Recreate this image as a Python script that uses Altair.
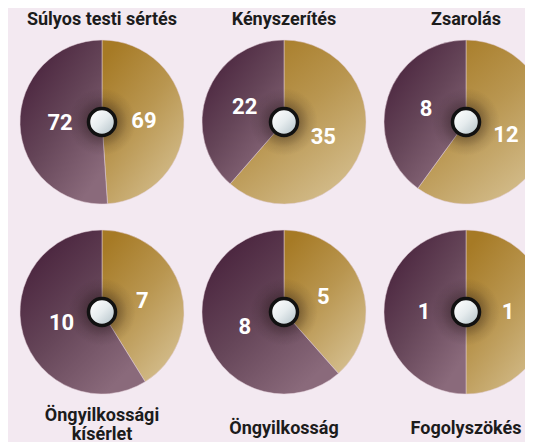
import altair as alt
import pandas as pd

titles = ["Súlyos testi sértés", "Kényszerítés", "Zsarolás",
          "Öngyilkossági\nkísérlet", "Öngyilkosság", "Fogolyszökés"]
gold_values = [69, 35, 12, 7, 5, 1]
purple_values = [72, 22, 8, 10, 8, 1]
grid_col = [0, 1, 2, 0, 1, 2]
grid_row = [0, 0, 0, 1, 1, 1]

rows = []
for i, t in enumerate(titles):
    rows.append({"pie": i, "col": grid_col[i], "row": grid_row[i],
                 "kind": "gold", "order": 0, "value": gold_values[i]})
    rows.append({"pie": i, "col": grid_col[i], "row": grid_row[i],
                 "kind": "purple", "order": 1, "value": purple_values[i]})
slices = pd.DataFrame(rows)
pies = pd.DataFrame({"pie": list(range(len(titles))), "title": titles,
                     "col": grid_col, "row": grid_row})

X = alt.X("col:Q", scale=alt.Scale(domain=[0, 2], range=[94, 458]), axis=None)
Y = alt.Y("row:Q", scale=alt.Scale(domain=[0, 1], range=[114, 304]), axis=None)

FONT = "Roboto"

gold_grad = alt.LinearGradient(
    gradient="linear",
    stops=[alt.GradientStop(color="#a67a25", offset=0),
           alt.GradientStop(color="#b99650", offset=0.45),
           alt.GradientStop(color="#d7c294", offset=1)],
    x1=0.2, y1=0.0, x2=0.85, y2=1.0)
purple_grad = alt.LinearGradient(
    gradient="linear",
    stops=[alt.GradientStop(color="#48223c", offset=0),
           alt.GradientStop(color="#654558", offset=0.5),
           alt.GradientStop(color="#8a6a7b", offset=1)],
    x1=0.1, y1=0.1, x2=0.75, y2=0.95)
shadow_grad = alt.RadialGradient(
    gradient="radial",
    stops=[alt.GradientStop(color="rgba(25,12,12,0.55)", offset=0),
           alt.GradientStop(color="rgba(25,12,12,0.35)", offset=0.45),
           alt.GradientStop(color="rgba(25,12,12,0.1)", offset=0.75),
           alt.GradientStop(color="rgba(25,12,12,0)", offset=1)],
    x1=0.5, y1=0.5, r1=0, x2=0.5, y2=0.5, r2=0.5)
knob_grad = alt.LinearGradient(
    gradient="linear",
    stops=[alt.GradientStop(color="#ffffff", offset=0),
           alt.GradientStop(color="#e6ecee", offset=0.5),
           alt.GradientStop(color="#b8c6cc", offset=1)],
    x1=0.1, y1=0.1, x2=0.9, y2=0.9)

base = (
    alt.Chart(slices)
    .transform_joinaggregate(total="sum(value)", groupby=["pie"])
    .transform_window(cum="sum(value)", groupby=["pie"],
                      sort=[alt.SortField("order")], frame=[None, 0])
    .transform_calculate(
        t0="2*PI*(datum.cum - datum.value)/datum.total",
        t1="2*PI*datum.cum/datum.total",
    )
    .transform_calculate(tm="(datum.t0 + datum.t1)/2")
)

gold_arc = base.transform_filter("datum.kind == 'gold'").mark_arc(
    radius=82, fill=gold_grad, stroke="#e2cfd8", strokeWidth=0.5
).encode(x=X, y=Y, theta=alt.Theta("t0:Q", scale=None), theta2="t1:Q")

purple_arc = base.transform_filter("datum.kind == 'purple'").mark_arc(
    radius=82, fill=purple_grad, stroke="#e2cfd8", strokeWidth=0.5
).encode(x=X, y=Y, theta=alt.Theta("t0:Q", scale=None), theta2="t1:Q")

labels = base.mark_text(
    radius=42, font=FONT, fontSize=22, fontWeight="bold", color="white",
    baseline="middle", align="center"
).encode(x=X, y=Y, theta=alt.Theta("tm:Q", scale=None), text="value:Q")

shadow = alt.Chart(pies).mark_circle(
    size=4600, opacity=1, fill=shadow_grad, stroke=None
).encode(x=X, y=Y)

knob = alt.Chart(pies).mark_circle(
    size=730, opacity=1, fill=knob_grad, stroke="#111111", strokeWidth=3.5
).encode(x=X, y=Y)

title_style = dict(baseline="middle", align="center", font=FONT, fontSize=18,
                   fontWeight="bold", color="#1c1c1c")

top_titles = alt.Chart(pies).transform_filter("datum.row == 0").mark_text(
    dy=-102, **title_style
).encode(x=X, y=Y, text="title:N")

bottom_titles = alt.Chart(pies).transform_filter(
    "datum.row == 1 && indexof(datum.title, '\\n') < 0"
).mark_text(dy=117, **title_style).encode(x=X, y=Y, text="title:N")

bottom_titles_2 = alt.Chart(pies).transform_filter(
    "datum.row == 1 && indexof(datum.title, '\\n') >= 0"
).mark_text(dy=104, lineBreak="\n", lineHeight=19, **title_style).encode(
    x=X, y=Y, text="title:N")

chart = alt.layer(
    gold_arc, purple_arc, shadow, labels, knob,
    top_titles, bottom_titles, bottom_titles_2
).properties(
    width=517, height=434,
    autosize=alt.AutoSizeParams(type="none"),
    padding=0,
    background="#f3e9f1",
).configure_view(stroke=None)

chart.save("out.html", embed_options={"renderer": "svg", "actions": False})
